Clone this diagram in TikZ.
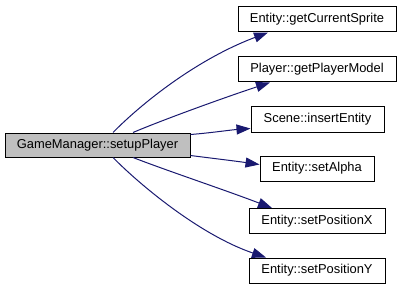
\documentclass[tikz,border=0pt]{standalone}
\usepackage{fontspec}
\setmainfont{Liberation Sans}
\usetikzlibrary{arrows.meta}
\definecolor{edgeblue}{HTML}{191970}
\definecolor{rootgrey}{HTML}{BFBFBF}
\begin{document}
\begin{tikzpicture}[x=1pt,y=-1pt,
  fn/.style={draw=black, line width=1pt, fill=white, inner sep=0pt,
    minimum height=25pt, font=\fontsize{12.9}{14}\selectfont},
  rootfn/.style={fn, fill=rootgrey, minimum height=24pt},
  call/.style={draw=edgeblue, line width=1pt,
    -{Triangle[length=14pt,width=10pt]}}]
\useasboundingbox (0,0) rectangle (403,291);
% caller
\node[rootfn, minimum width=185pt] (root) at (97.5,145) {GameManager::setupPlayer};
% callees
\node[fn, minimum width=158pt] (gcs) at (317,19.5) {Entity::getCurrentSprite};
\node[fn, minimum width=158pt] (gpm) at (317,69.5) {Player::getPlayerModel};
\node[fn, minimum width=133pt] (ins) at (317.5,119.5) {Scene::insertEntity};
\node[fn, minimum width=114pt] (alp) at (317,168.5) {Entity::setAlpha};
\node[fn, minimum width=136pt] (spx) at (317,221) {Entity::setPositionX};
\node[fn, minimum width=136pt] (spy) at (317,270.5) {Entity::setPositionY};
% calls
\draw[call] ([xshift=15.5pt]root.north) .. controls (140,105) and (195,60) .. ([xshift=-49pt]gcs.south);
\draw[call] ([xshift=35.5pt]root.north) .. controls (160,121) and (220,99) .. ([xshift=-47pt]gpm.south);
\draw[call] ([yshift=-2pt]root.north east) .. controls (210,133) and (230,130) .. ([yshift=-9pt]ins.west);
\draw[call] ([yshift=2pt]root.south east) .. controls (210,158) and (235,161) .. ([yshift=4pt]alp.west);
\draw[call] ([xshift=35.5pt]root.south) .. controls (165,170) and (225,190) .. ([xshift=-45pt]spx.north);
\draw[call] ([xshift=15.5pt]root.south) .. controls (140,185) and (200,235) .. ([xshift=-51pt]spy.north);
\end{tikzpicture}
\end{document}
